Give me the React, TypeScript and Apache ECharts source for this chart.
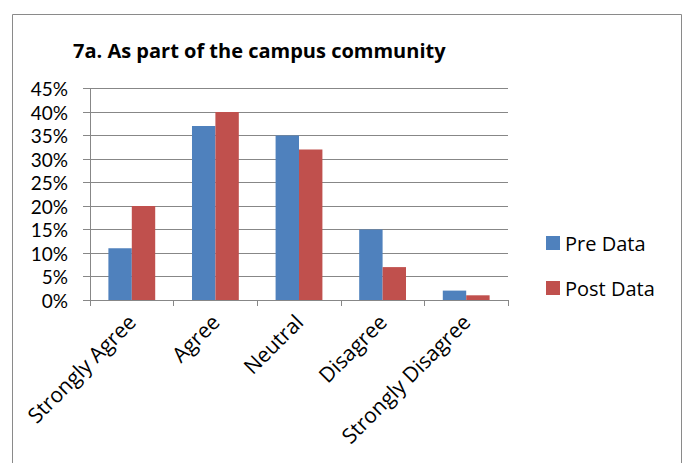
import React, { useEffect, useRef } from "react";
import * as echarts from "echarts";

const categories = ["Strongly Agree", "Agree", "Neutral", "Disagree", "Strongly Disagree"];
const preData = [11, 37, 35, 15, 2];
const postData = [20, 40, 32, 7, 1];
const seriesNames = ["Pre Data", "Post Data"];
const titleText = "7a. As part of the campus community";

const FONT = "'Open Sans', 'Noto Sans', sans-serif";
const YFONT = "Lato, 'Open Sans', sans-serif";

export default function App() {
  const ref = useRef<HTMLDivElement>(null);
  useEffect(() => {
    document.body.style.margin = "0";
    const chart = echarts.init(ref.current!, null, { renderer: "svg" });
    chart.setOption({
      animation: false,
      backgroundColor: "#ffffff",
      textStyle: { fontFamily: FONT },
      title: {
        text: titleText,
        left: 68,
        top: 35,
        textStyle: { fontFamily: FONT, fontWeight: "bold", fontSize: 20, color: "#000" },
      },
      graphic: [
        {
          type: "rect",
          shape: { x: 12.5, y: 14.5, width: 669, height: 470 },
          style: { fill: "none", stroke: "#8a8a8a", lineWidth: 1 },
          silent: true,
        },
      ],
      legend: {
        orient: "vertical",
        left: 541,
        top: 226,
        icon: "rect",
        itemWidth: 14,
        itemHeight: 14,
        itemGap: 21,
        textStyle: { fontFamily: FONT, fontSize: 20, color: "#000", lineHeight: 24 },
        data: seriesNames,
      },
      grid: { left: 90, right: 178, top: 88.5, bottom: 163, containLabel: false },
      xAxis: {
        type: "category",
        data: categories,
        axisLine: { lineStyle: { color: "#878787", width: 1 } },
        axisTick: { show: true, length: 6, lineStyle: { color: "#878787" } },
        axisLabel: {
          rotate: 45,
          interval: 0,
          margin: 18,
          fontFamily: FONT,
          fontSize: 21,
          color: "#000",
        },
      },
      yAxis: {
        type: "value",
        min: 0,
        max: 45,
        interval: 5,
        axisLine: { show: true, lineStyle: { color: "#878787", width: 1 } },
        axisTick: { show: true, length: 7, lineStyle: { color: "#878787" } },
        splitLine: { show: true, lineStyle: { color: "#878787", width: 1 } },
        axisLabel: {
          margin: 22,
          fontFamily: YFONT,
          fontSize: 19,
          lineHeight: 20,
          color: "#000",
          formatter: (v: number) => v + "%",
        },
      },
      series: [
        {
          name: seriesNames[0],
          type: "bar",
          data: preData,
          itemStyle: { color: "#4F81BD" },
          barGap: "0%",
          barCategoryGap: "44%",
        },
        {
          name: seriesNames[1],
          type: "bar",
          data: postData,
          itemStyle: { color: "#C0504D" },
          barGap: "0%",
          barCategoryGap: "44%",
        },
      ],
    });
    return () => chart.dispose();
  }, []);
  return <div ref={ref} style={{ width: 686, height: 463 }} />;
}
